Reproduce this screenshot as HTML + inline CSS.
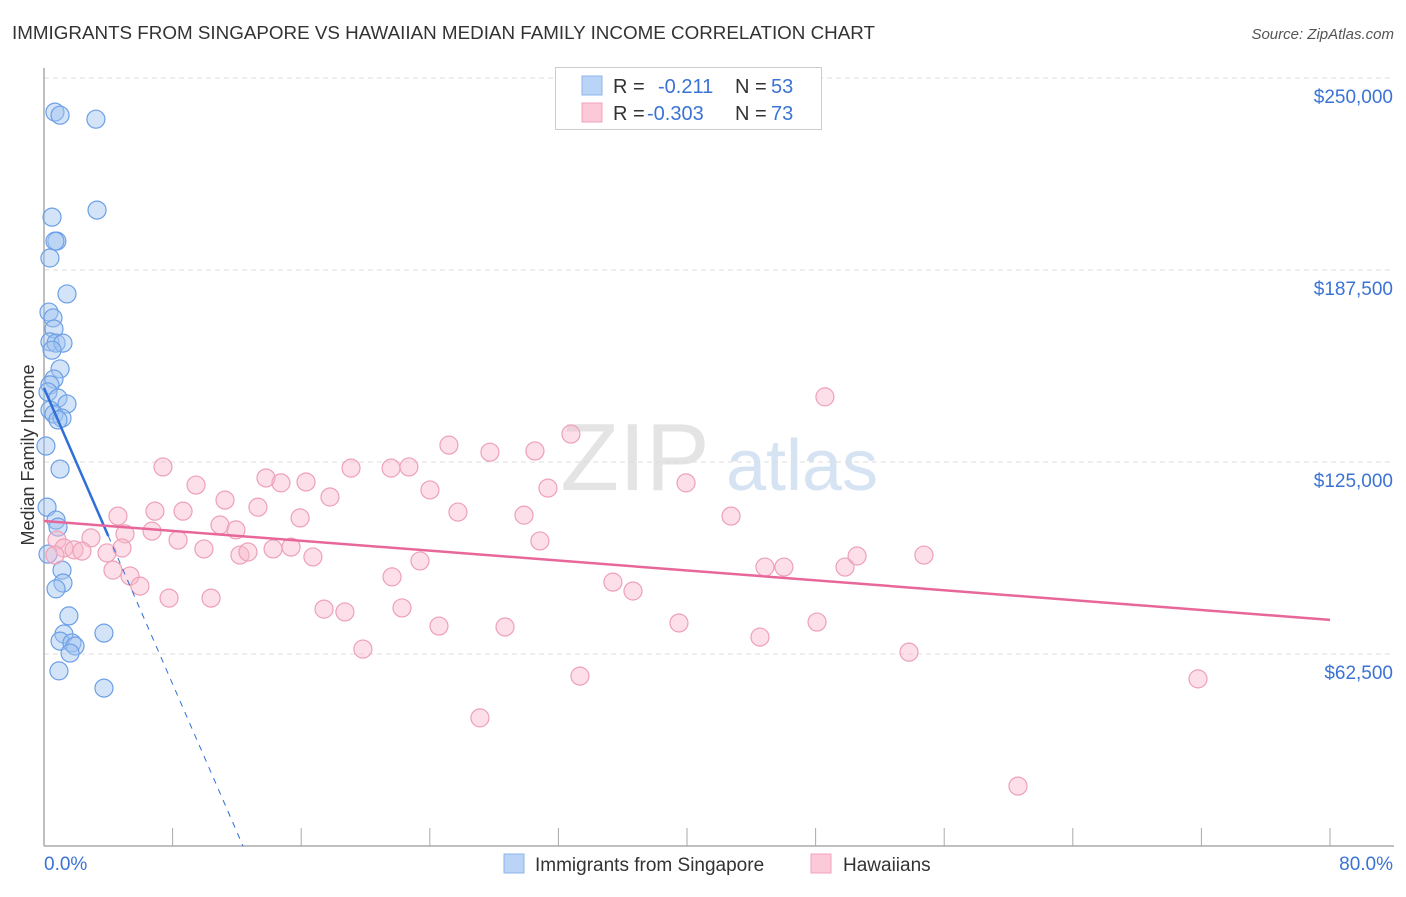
<!DOCTYPE html>
<html><head><meta charset="utf-8"><style>
body{margin:0;background:#fff;font-family:"Liberation Sans",sans-serif;}
svg text{font-family:"Liberation Sans",sans-serif;}
</style></head><body>
<svg id="chart" width="1406" height="892" xmlns="http://www.w3.org/2000/svg">
<text x="12" y="39" font-size="18" fill="#333" textLength="863" lengthAdjust="spacingAndGlyphs">IMMIGRANTS FROM SINGAPORE VS HAWAIIAN MEDIAN FAMILY INCOME CORRELATION CHART</text>
<text x="1394" y="39" font-size="15" fill="#555" font-style="italic" text-anchor="end">Source: ZipAtlas.com</text>
<g><text x="635" y="490" font-size="96" font-family="Liberation Serif" fill="#e4e4e4" text-anchor="middle">ZIP</text><text x="802" y="490" font-size="72" fill="#d6e3f3" text-anchor="middle">atlas</text></g>
<g id="grid"></g>
<g id="axes"></g>
<g id="pts"></g>
<g id="lines"></g>
<text x="34" y="455" font-size="18" fill="#333" text-anchor="middle" transform="rotate(-90 34 455)">Median Family Income</text>
<g>
<rect x="555.5" y="67.5" width="266" height="62" fill="#fff" stroke="#ccc"/>
<rect x="582" y="76" width="20" height="19" fill="#b9d4f6" stroke="#8db4ea"/>
<rect x="582" y="103" width="20" height="19" fill="#fbc9d8" stroke="#f0a3ba"/>
<text x="613" y="93" font-size="20" fill="#333">R =</text><text x="658" y="93" font-size="20" fill="#3b73d4">-0.211</text>
<text x="735" y="93" font-size="20" fill="#333">N =</text><text x="771" y="93" font-size="20" fill="#3b73d4">53</text>
<text x="613" y="120" font-size="20" fill="#333">R =</text><text x="647" y="120" font-size="20" fill="#3b73d4">-0.303</text>
<text x="735" y="120" font-size="20" fill="#333">N =</text><text x="771" y="120" font-size="20" fill="#3b73d4">73</text>
</g>
<g>
<rect x="504" y="854" width="20" height="19" fill="#b9d4f6" stroke="#8db4ea"/>
<text x="535" y="871" font-size="19" fill="#333">Immigrants from Singapore</text>
<rect x="811" y="854" width="20" height="19" fill="#fbc9d8" stroke="#f0a3ba"/>
<text x="843" y="871" font-size="19" fill="#333">Hawaiians</text>
</g>
</svg>
<script>
const yTicks=[62500,125000,187500,250000];
const yTickLabels=["$62,500","$125,000","$187,500","$250,000"];
const xTickLabels=["0.0%","80.0%"];
const blueX=[0.68,1.0,3.23,0.5,3.3,0.8,0.68,0.37,1.43,0.31,0.56,0.62,0.37,0.75,1.18,0.5,1.0,0.62,0.37,0.25,0.87,1.43,0.37,0.62,1.12,0.87,0.12,1.0,0.19,0.75,0.87,0.25,1.12,1.18,0.75,1.55,1.24,3.73,1.0,1.74,1.93,1.62,0.93,3.73];
const blueY=[238900,237900,236600,204700,207000,196900,196900,191400,179700,173800,171900,168300,164100,163700,163700,161400,155300,152000,150100,147800,145800,143900,141900,140600,139300,138700,130200,122700,110300,106100,103800,95000,89800,85600,83700,74900,69000,69300,66700,66100,65100,62800,57000,51400];
const pinkX=[4.6,2.92,0.81,1.24,1.87,2.36,0.68,5.04,4.85,3.92,4.29,5.35,5.97,6.72,6.9,8.65,7.78,8.34,7.4,9.46,9.95,10.39,11.26,10.95,11.94,12.19,12.69,13.31,13.81,14.74,14.25,15.37,15.93,16.3,16.73,17.42,17.79,18.72,19.1,19.84,21.59,22.7,21.65,22.27,23.39,24.01,24.57,25.19,25.75,27.74,28.68,29.86,30.54,30.85,31.35,32.78,33.34,27.12,35.39,36.64,39.5,39.94,42.74,44.54,44.85,46.03,48.09,48.58,49.83,50.58,53.81,54.74,71.79,60.59];
const pinkY=[107400,100300,99600,97000,96400,96000,94700,101600,97000,95400,89800,87900,84600,102500,109000,109000,80700,99600,123400,117500,96700,80700,112600,104500,102900,94700,95700,110300,119800,118200,96700,97300,106800,118500,94100,77100,113600,76200,123000,64100,123000,123400,87600,77500,92800,115900,71600,130500,108700,128200,71300,107700,128600,99300,116500,134100,55300,41700,85900,83000,72600,118200,107400,68000,90800,90800,72900,146200,90800,94400,63100,94700,54400,19500];
const blueTrend=[149100,-12044];
const pinkTrend=[105800,-402.5];
const NS="http://www.w3.org/2000/svg";
const X=p=>44+p/80*1286, Y=v=>846-v/62500*192;
function mk(t,a,parent){const e=document.createElementNS(NS,t);for(const k in a)e.setAttribute(k,a[k]);document.getElementById(parent).appendChild(e);return e;}
yTicks.forEach((v,i)=>{
 const l=mk('line',{x1:44,x2:1394,y1:Y(v),y2:Y(v),stroke:'#ddd','stroke-dasharray':'5,4'},'grid');
 
 
 const t=mk('text',{x:1393,y:Y(v)+25,'font-size':19,fill:'#3b73d4','text-anchor':'end'},'grid');
 t.textContent=yTickLabels[i];
 
 
});
const ax=mk('line',{x1:44,x2:44,y1:68,y2:846,stroke:'#aaa','stroke-width':1.5},'axes');


const bx=mk('line',{x1:44,x2:1394,y1:846,y2:846,stroke:'#aaa','stroke-width':1.5},'axes');


for(let i=1;i<=10;i++){const tk=mk('line',{x1:X(i*8),x2:X(i*8),y1:828,y2:846,stroke:'#aaa'},'axes');
 
 }
xTickLabels.forEach((s,i)=>{const t=mk('text',{x:i?1393:44,y:870,'font-size':19,fill:'#3b73d4','text-anchor':i?'end':'start'},'axes');t.textContent=s;
 
 });
blueX.forEach((x,i)=>{const c=mk('circle',{cx:X(x),cy:Y(blueY[i]),r:9,fill:'rgba(160,195,240,0.45)',stroke:'#6c9fe6','stroke-width':1.2},'pts');
 
 });
pinkX.forEach((x,i)=>{const c=mk('circle',{cx:X(x),cy:Y(pinkY[i]),r:9,fill:'rgba(248,185,205,0.45)',stroke:'#eea0b8','stroke-width':1.2},'pts');
 
 });
const bt=x=>blueTrend[0]+blueTrend[1]*x, pt=x=>pinkTrend[0]+pinkTrend[1]*x;
const xEnd=-blueTrend[0]/blueTrend[1];
const l1=mk('line',{x1:X(0),y1:Y(bt(0)),x2:X(4),y2:Y(bt(4)),stroke:'#2e6fd8','stroke-width':2.5},'lines');


const l2=mk('line',{x1:X(4),y1:Y(bt(4)),x2:X(xEnd),y2:Y(0),stroke:'#2e6fd8','stroke-width':1,'stroke-dasharray':'6,6'},'lines');


const l3=mk('line',{x1:X(0),y1:Y(pt(0)),x2:X(80),y2:Y(pt(80)),stroke:'#e8679a','stroke-width':2.5},'lines');


</script>
</body></html>
